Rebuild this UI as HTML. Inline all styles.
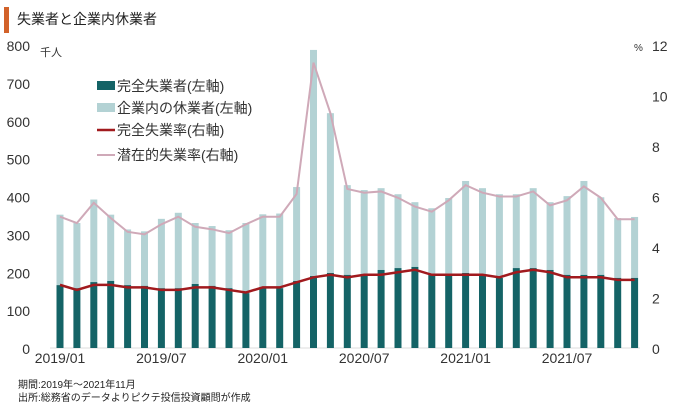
<!DOCTYPE html>
<html><head><meta charset="utf-8">
<style>
body{margin:0;background:#fff;width:680px;height:409px;overflow:hidden;font-family:"Liberation Sans","Noto Sans CJK JP",sans-serif;}
svg text{font-family:"Liberation Sans","Noto Sans CJK JP",sans-serif;}
</style></head><body>
<svg id="chart" width="680" height="409">
<rect x="4" y="7" width="5" height="26" fill="#d2622a"/>
<text x="17" y="24" font-size="14" fill="#222">失業者と企業内休業者</text>
<text x="40" y="56" font-size="11" fill="#333">千人</text>
<text x="634" y="51" font-size="10" fill="#333">%</text>
<g id="axes"></g>
<g id="bars"></g>
<g id="lines"></g>
<g id="legend" font-size="14" fill="#333">
<rect x="97" y="81" width="18" height="9" fill="#146366"/>
<text x="117" y="91">完全失業者(左軸)</text>
<rect x="97" y="103" width="18" height="9" fill="#b3d2d4"/>
<text x="117" y="113">企業内の休業者(左軸)</text>
<line x1="97" y1="130" x2="115" y2="130" stroke="#a11a1e" stroke-width="2.5"/>
<text x="117" y="135">完全失業率(右軸)</text>
<line x1="97" y1="155" x2="115" y2="155" stroke="#cfa9b8" stroke-width="2"/>
<text x="117" y="160">潜在的失業率(右軸)</text>
</g>
<text x="18" y="388" font-size="10" fill="#222">期間:2019年～2021年11月</text>
<text x="18" y="401" font-size="10" fill="#222">出所:総務省のデータよりピクテ投信投資顧問が作成</text>
</svg>
<script>
const months = ["2019/01","2019/02","2019/03","2019/04","2019/05","2019/06","2019/07","2019/08","2019/09","2019/10","2019/11","2019/12","2020/01","2020/02","2020/03","2020/04","2020/05","2020/06","2020/07","2020/08","2020/09","2020/10","2020/11","2020/12","2021/01","2021/02","2021/03","2021/04","2021/05","2021/06","2021/07","2021/08","2021/09","2021/10","2021/11"];
const unemployed = [166,158,174,177,166,164,158,158,169,164,158,145,158,158,177,190,198,193,193,206,211,214,193,193,198,193,185,211,211,206,193,193,193,185,185];
const totalLeft = [352,330,392,352,313,308,341,357,330,322,311,330,353,355,425,787,620,430,417,422,406,385,369,396,441,422,406,406,422,385,401,441,398,343,346];
const unemploymentRate = [2.5,2.3,2.5,2.5,2.4,2.4,2.3,2.3,2.4,2.4,2.3,2.2,2.4,2.4,2.6,2.8,2.9,2.8,2.9,2.9,3.0,3.1,2.9,2.9,2.9,2.9,2.8,3.0,3.1,3.0,2.8,2.8,2.8,2.7,2.7];
const potentialRate = [5.2,4.95,5.75,5.15,4.6,4.5,4.9,5.2,4.8,4.7,4.55,4.9,5.2,5.2,6.1,11.3,9.3,6.3,6.15,6.2,5.95,5.6,5.4,5.85,6.45,6.15,6.0,6.0,6.2,5.65,5.85,6.4,5.95,5.1,5.1];
const leftTicks = [0,100,200,300,400,500,600,700,800];
const rightTicks = [0,2,4,6,8,10,12];
const xLabels = ["2019/01","2019/07","2020/01","2020/07","2021/01","2021/07"];

const NS="http://www.w3.org/2000/svg";
const y0=348, yTop=45;
const yL=v=>y0-(v/800)*(y0-yTop);
const yR=v=>y0-(v/12)*(y0-yTop);
const x=i=>60+i*16.9;
function mk(tag,attrs,parent){const e=document.createElementNS(NS,tag);for(const k in attrs)e.setAttribute(k,attrs[k]);parent.appendChild(e);return e;}
const axes=document.getElementById('axes'),bars=document.getElementById('bars'),lines=document.getElementById('lines');
const base=mk('line',{x1:50,x2:640,y1:y0,y2:y0,stroke:'#ddd','stroke-width':1},axes);


leftTicks.forEach(v=>{const t=mk('text',{x:30,y:yL(v)+6,'font-size':14,'text-anchor':'end',fill:'#333'},axes);t.textContent=v;

});
rightTicks.forEach(v=>{const t=mk('text',{x:652,y:yR(v)+6,'font-size':14,fill:'#333'},axes);t.textContent=v;

});
xLabels.forEach(l=>{const i=months.indexOf(l);const t=mk('text',{x:x(i),y:363,'font-size':14,'text-anchor':'middle',fill:'#333'},axes);t.textContent=l;

});
months.forEach((m,i)=>{
 const a=mk('rect',{x:x(i)-3.5,y:yL(totalLeft[i]),width:7,height:yL(unemployed[i])-yL(totalLeft[i]),fill:'#b3d2d4'},bars);
 
 
 const b=mk('rect',{x:x(i)-3.5,y:yL(unemployed[i]),width:7,height:y0-yL(unemployed[i]),fill:'#146366'},bars);
 
 
});
const p1=mk('polyline',{points:potentialRate.map((v,i)=>x(i)+','+yR(v)).join(' '),fill:'none',stroke:'#cfa9b8','stroke-width':2},lines);


const p2=mk('polyline',{points:unemploymentRate.map((v,i)=>x(i)+','+yR(v)).join(' '),fill:'none',stroke:'#a11a1e','stroke-width':2.5},lines);


</script>
</body></html>
